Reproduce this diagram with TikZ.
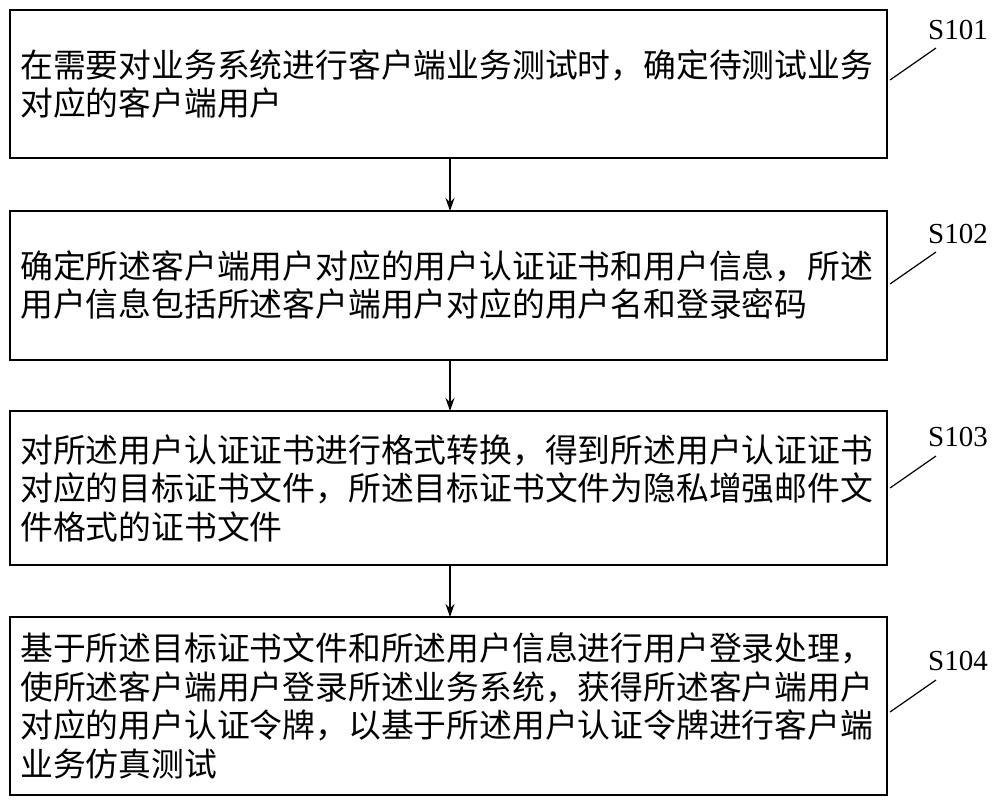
\documentclass[tikz,border=0pt]{standalone}
\usepackage{fontspec}
\setmainfont{Liberation Serif}
\newfontfamily\cjk{Noto Sans CJK SC}
\usetikzlibrary{arrows.meta}
\begin{document}
\begin{tikzpicture}[x=1pt,y=-1pt,
 box/.style={draw,line width=1.2pt},
 txt/.style={anchor=west,align=left,font=\cjk\fontsize{32.8}{38.5}\selectfont,inner sep=0},
 lab/.style={font=\fontsize{29}{30}\selectfont,inner sep=0},
 arr/.style={-{Stealth[length=13pt,width=9pt]},line width=1.2pt}]
\useasboundingbox (0,0) rectangle (1000,805);
\draw[box] (10,10) rectangle (887,158);
\draw[box] (10,211) rectangle (887,360);
\draw[box] (10,411) rectangle (887,565);
\draw[box] (10,617) rectangle (887,795);
\node[txt] (t1) at (20,84) {在需要对业务系统进行客户端业务测试时，确定待测试业务\\对应的客户端用户};
\node[txt] (t2) at (20,285) {确定所述客户端用户对应的用户认证证书和用户信息，所述\\用户信息包括所述客户端用户对应的用户名和登录密码};
\node[txt] (t3) at (20,488) {对所述用户认证证书进行格式转换，得到所述用户认证证书\\对应的目标证书文件，所述目标证书文件为隐私增强邮件文\\件格式的证书文件};
\node[txt] (t4) at (20,706) {基于所述目标证书文件和所述用户信息进行用户登录处理，\\使所述客户端用户登录所述业务系统，获得所述客户端用户\\对应的用户认证令牌，以基于所述用户认证令牌进行客户端\\业务仿真测试};
\coordinate (b1) at (450,158); \coordinate (a2) at (450,211);
\coordinate (b2) at (450,360); \coordinate (a3) at (450,411);
\coordinate (b3) at (450,565); \coordinate (a4) at (450,617);
\draw[arr] (b1)--(a2); \draw[arr] (b2)--(a3); \draw[arr] (b3)--(a4);
\node[lab] (s1) at (958,30) {S101};
\node[lab] (s2) at (958,234) {S102};
\node[lab] (s3) at (958,437) {S103};
\node[lab] (s4) at (958,661) {S104};
\draw[line width=1.2pt] (890,80)--(936,48);
\draw[line width=1.2pt] (890,284)--(936,252);
\draw[line width=1.2pt] (890,488)--(936,456);
\draw[line width=1.2pt] (890,712)--(936,680);
\end{tikzpicture}
\end{document}
